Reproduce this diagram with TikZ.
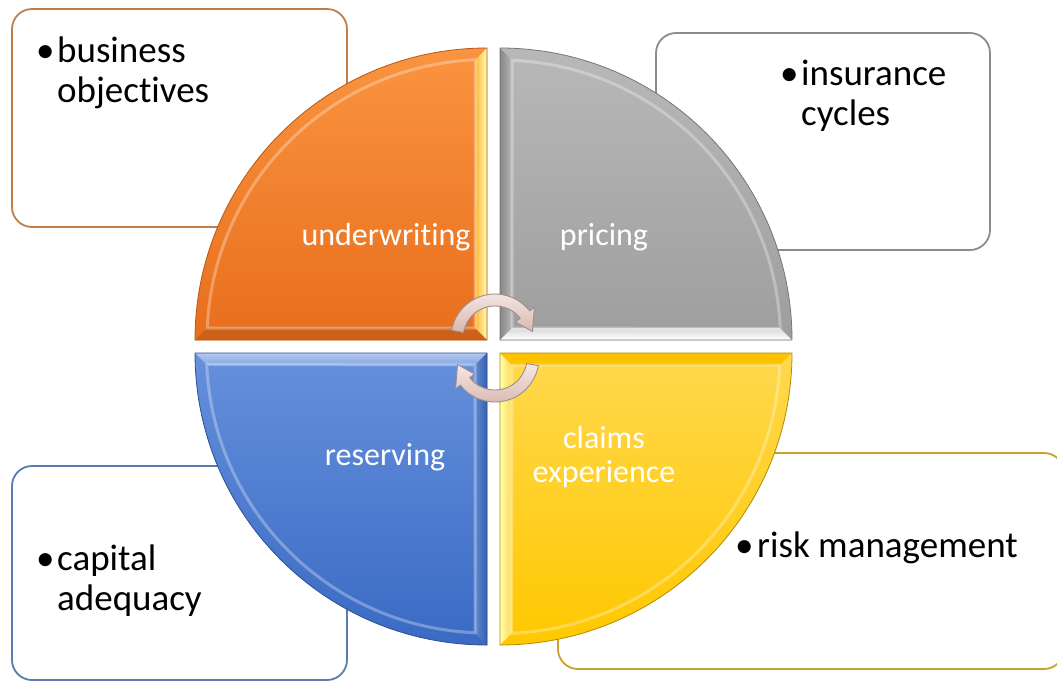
\documentclass[tikz,border=0pt]{standalone}
\usepackage{fontspec}
\setmainfont{Carlito}[Ligatures=NoCommon,RawFeature=-liga]
\definecolor{boxorange}{HTML}{BE7F4C}
\definecolor{boxgray}{HTML}{8C8C8C}
\definecolor{boxblue}{HTML}{5A7AB0}
\definecolor{boxgold}{HTML}{C9A22E}
\definecolor{orTop}{HTML}{FA9440}
\definecolor{orBot}{HTML}{E86E1C}
\definecolor{grTop}{HTML}{B8B8B8}
\definecolor{grBot}{HTML}{9E9E9E}
\definecolor{blTop}{HTML}{6690DC}
\definecolor{blBot}{HTML}{3A6AC4}
\definecolor{yeTop}{HTML}{FFD84E}
\definecolor{yeBot}{HTML}{FFC800}
\definecolor{arrowtop}{HTML}{F7E8E4}
\definecolor{arrowbot}{HTML}{D8B8B0}
\definecolor{arrowedge}{HTML}{9C8E8B}
\begin{document}
\begin{tikzpicture}[x=1pt,y=-1pt,
  boxstyle/.style={line width=1.8pt, fill=white, rounded corners=20pt},
  boxtext/.style={anchor=base west, inner sep=0pt, font=\fontsize{37}{40}\selectfont, text=black},
  pietext/.style={inner sep=0pt, anchor=base, font=\fontsize{32}{34}\selectfont, text=white, align=center},
  arrowstyle/.style={draw=arrowedge, line width=0.9pt, top color=arrowtop, bottom color=arrowbot},
  ridge/.style={draw=white, draw opacity=0.3, line width=3pt},
  rim/.style={draw=#1, line width=0.8pt}
]
\useasboundingbox (0,0) rectangle (1057,681);
\fill[white] (0,0) rectangle (1057,681);

% boxes
\draw[boxstyle, draw=boxorange] (12,9) rectangle (347,227);
\draw[boxstyle, draw=boxgray] (656,33) rectangle (990,250);
\draw[boxstyle, draw=boxblue] (12,466) rectangle (347,680);
\draw[boxstyle, draw=boxgold] (558,453) rectangle (1064,669);

% orange quadrant (centre 487,340)
\shade[top color=orTop, bottom color=orBot] (487,340) -- (195,340) arc[start angle=180,end angle=270,radius=292] -- cycle;
\shade[left color=orTop!70!yellow, right color=yellow!25] (487,48) -- (487,340) -- (475,328) -- (475,60.3) -- cycle;
\fill[orBot!88!black] (195,340) -- (487,340) -- (475,328) -- (207.3,328) -- cycle;
\draw[ridge] (475,328) -- (207.3,328) arc[start angle=182.36,end angle=267.64,radius=280] -- cycle;
\draw[rim=orBot!80!black] (487,340) -- (195,340) arc[start angle=180,end angle=270,radius=292] -- cycle;

% gray quadrant (centre 500,340)
\shade[top color=grTop, bottom color=grBot] (500,340) -- (500,48) arc[start angle=270,end angle=360,radius=292] -- cycle;
\shade[left color=grBot!85!black, right color=grTop] (500,48) -- (500,340) -- (512,328) -- (512,60.3) -- cycle;
\shade[top color=grBot!40!white, bottom color=white] (500,340) -- (792,340) -- (779.7,328) -- (512,328) -- cycle;
\draw[ridge] (512,328) -- (512,60.3) arc[start angle=272.36,end angle=357.64,radius=280] -- cycle;
\draw[rim=grBot!75!black] (500,340) -- (500,48) arc[start angle=270,end angle=360,radius=292] -- cycle;

% blue quadrant (centre 487,353)
\shade[top color=blTop, bottom color=blBot] (487,353) -- (487,645) arc[start angle=90,end angle=180,radius=292] -- cycle;
\shade[top color=blTop!50!white, bottom color=blTop!80!white] (195,353) -- (487,353) -- (475,365) -- (207.3,365) -- cycle;
\shade[left color=blTop!95!black, right color=blBot!90!black] (487,353) -- (487,645) -- (475,632.7) -- (475,365) -- cycle;
\draw[ridge] (475,365) -- (475,632.7) arc[start angle=92.36,end angle=177.64,radius=280] -- cycle;
\draw[rim=blBot!75!black] (487,353) -- (487,645) arc[start angle=90,end angle=180,radius=292] -- cycle;

% yellow quadrant (centre 500,353)
\shade[top color=yeTop, bottom color=yeBot] (500,353) -- (792,353) arc[start angle=0,end angle=90,radius=292] -- cycle;
\shade[left color=yellow!30!white, right color=yeTop] (500,353) -- (500,645) -- (512,632.7) -- (512,365) -- cycle;
\fill[yeBot!92!orange] (500,353) -- (792,353) -- (779.7,365) -- (512,365) -- cycle;
\draw[ridge] (512,365) -- (779.7,365) arc[start angle=2.36,end angle=87.64,radius=280] -- cycle;
\draw[rim=yeBot!70!black] (500,353) -- (792,353) arc[start angle=0,end angle=90,radius=292] -- cycle;

% circular arrows
\begin{scope}[shift={(495,338)}]
\path[arrowstyle] (190:44) arc[start angle=190,end angle=322,radius=44] -- (322:50) -- (350:38) -- (322:26) -- (322:32) arc[start angle=322,end angle=190,radius=32] -- cycle;
\end{scope}
\begin{scope}[shift={(495,358)}]
\path[arrowstyle] (10:44) arc[start angle=10,end angle=142,radius=44] -- (142:50) -- (170:38) -- (142:26) -- (142:32) arc[start angle=142,end angle=10,radius=32] -- cycle;
\end{scope}

% pie labels
\node[pietext] (uw) at (386,245) {underwriting};
\node[pietext] (pr) at (604,245) {pricing};
\node[pietext] (rs) at (385,465) {reserving};
\node[pietext] (cl) at (604,448) {claims};
\node[pietext] (ex) at (604,482) {experience};

% box texts
\node[boxtext] (bo) at (36,62) {\begin{tabular}[t]{@{}l@{}l@{}}\makebox[21pt][l]{•}&business\\&objectives\end{tabular}};
\node[boxtext] (ic) at (780,85) {\begin{tabular}[t]{@{}l@{}l@{}}\makebox[21pt][l]{•}&insurance\\&cycles\end{tabular}};
\node[boxtext] (ca) at (36,570) {\begin{tabular}[t]{@{}l@{}l@{}}\makebox[21pt][l]{•}&capital\\&adequacy\end{tabular}};
\node[boxtext] (rm) at (735,557) {\makebox[22pt][l]{•}risk management};
\end{tikzpicture}
\end{document}
